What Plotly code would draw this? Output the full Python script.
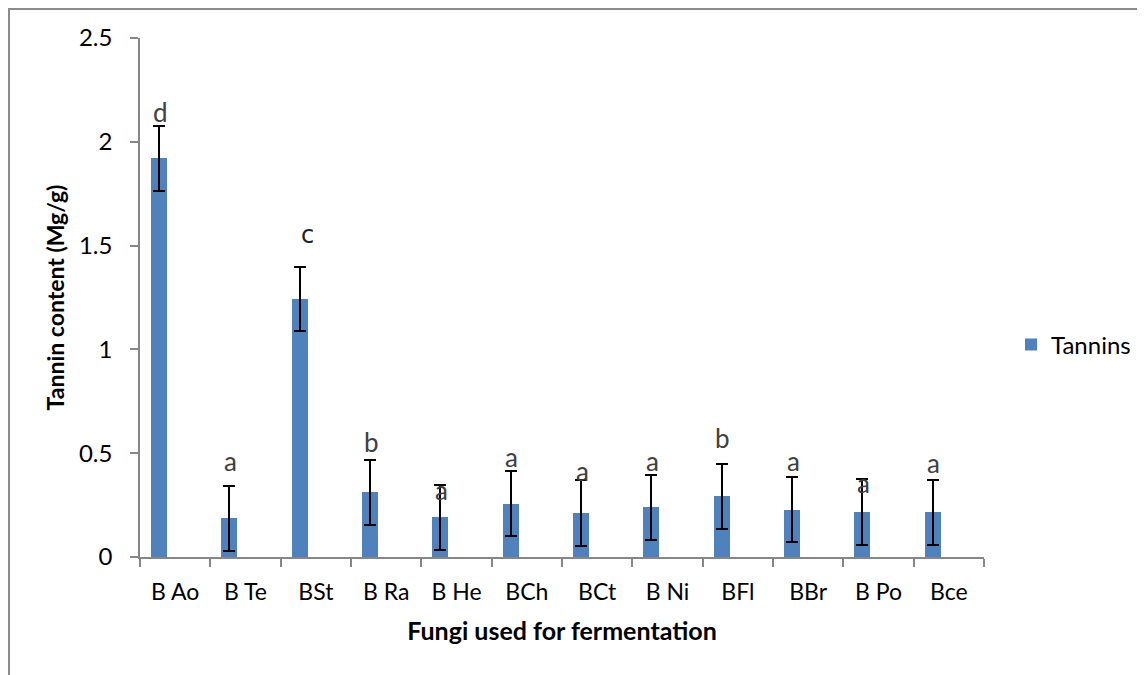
import plotly.graph_objects as go

categories = ["B Ao", "B Te", "BSt", "B Ra", "B He", "BCh", "BCt", "B Ni", "BFl", "BBr", "B Po", "Bce"]
tannins = [1.92, 0.187, 1.244, 0.312, 0.191, 0.257, 0.212, 0.240, 0.293, 0.228, 0.217, 0.216]
errors = [0.157, 0.157, 0.155, 0.157, 0.157, 0.157, 0.157, 0.157, 0.157, 0.157, 0.157, 0.157]
letters = ["d", "a", "c", "b", "a", "a", "a", "a", "b", "a", "a", "a"]
letter_y = [2.142, 0.463, 1.553, 0.556, 0.323, 0.481, 0.416, 0.463, 0.572, 0.463, 0.355, 0.455]
y_ticks = [0, 0.5, 1, 1.5, 2, 2.5]
y_tick_text = ["0", "0.5", "1", "1.5", "2", "2.5"]

FONT = "Lato"
AXIS_COLOR = "#868686"

fig = go.Figure()
fig.add_trace(go.Bar(
    x=categories,
    y=tannins,
    name="Tannins",
    marker=dict(color="#4F81BD", line=dict(width=0)),
    width=0.228,
    offset=-0.344,
    error_y=dict(type="data", array=errors, visible=True, color="black",
                 thickness=2, width=6),
    showlegend=True,
))

for cat, lab, ly in zip(categories, letters, letter_y):
    if lab == "c":
        f = dict(family="DejaVu Sans", size=24, color="#202020")
        xs = -8
    else:
        f = dict(family=FONT, size=26, color="#404040")
        xs = -15
    fig.add_annotation(x=cat, y=ly, text=lab, showarrow=False,
                       xshift=xs, yanchor="middle", xanchor="center", font=f)

fig.add_shape(type="rect", xref="paper", yref="paper",
              x0=-0.1552, x1=1.3, y0=-0.4, y1=1.0559,
              line=dict(color="#8c8c8c", width=2), layer="below")

fig.update_layout(
    width=1160, height=667,
    margin=dict(l=132, r=184, t=30, b=118),
    plot_bgcolor="white", paper_bgcolor="white",
    font=dict(family=FONT, size=22, color="black"),
    bargap=0,
    showlegend=True,
    legend=dict(x=1.032, y=0.4085, xanchor="left", yanchor="middle",
                font=dict(family=FONT, size=24, color="black"),
                bgcolor="rgba(0,0,0,0)"),
    xaxis=dict(
        type="category",
        showline=True, linecolor=AXIS_COLOR, linewidth=1.5,
        ticks="outside", tickson="boundaries", ticklen=8, tickcolor=AXIS_COLOR,
        tickwidth=1.5, showgrid=False, ticklabelstandoff=14,
        tickfont=dict(family=FONT, size=23, color="black"),
        title=dict(text="<b>Fungi used for fermentation</b>", standoff=18,
                   font=dict(family=FONT, size=25, color="black")),
    ),
    yaxis=dict(
        range=[0, 2.5], tickvals=y_ticks, ticktext=y_tick_text,
        showline=True, linecolor=AXIS_COLOR, linewidth=1.5,
        ticks="outside", ticklen=8, tickcolor=AXIS_COLOR, tickwidth=1.5,
        showgrid=False, zeroline=False, ticklabelstandoff=13,
        tickfont=dict(family=FONT, size=24, color="black"),
        title=dict(text="<b>Tannin content (Mg/g)</b>", standoff=8,
                   font=dict(family=FONT, size=23, color="black")),
    ),
)

fig.write_html("out.html")
